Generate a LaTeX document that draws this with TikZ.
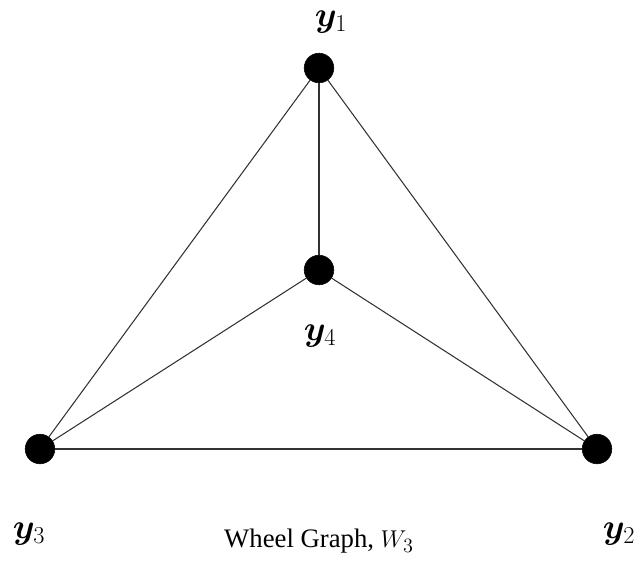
\documentclass[tikz,border=0pt]{standalone}
\usepackage{amsmath}
\usepackage{amssymb}
\usepackage{bm}
\usepackage{fontspec}
\setmainfont{Liberation Serif}
\usepackage{tikz}
\usetikzlibrary{positioning, calc}
\definecolor{mydark}{RGB}{50,50,50}
\tikzset{
  vertex/.style={circle, draw=black, fill=black,
    minimum size=0.74cm, inner sep=0pt},
  vlabel/.style={font=\fontsize{26}{30}\selectfont, inner sep=0pt},
  edge/.style={line width=0.75pt, color=mydark},
  caption/.style={font=\fontsize{19}{22}\selectfont, inner sep=0pt}
}
\begin{document}
\begin{tikzpicture}[x=0.025cm, y=-0.025cm]
  \useasboundingbox (0,0) rectangle (636,561);
  % Vertices
  \node[vertex] (y1) at (319,68) {};
  \node[vertex] (y4) at (319,270) {};
  \node[vertex] (y3) at (40,449) {};
  \node[vertex] (y2) at (597,449) {};
  % Edges: rim
  \draw[edge] (y1) -- (y2);
  \draw[edge] (y2) -- (y3);
  \draw[edge] (y3) -- (y1);
  % Edges: spokes
  \draw[edge] (y4) -- (y1);
  \draw[edge] (y4) -- (y2);
  \draw[edge] (y4) -- (y3);
  % Labels
  \node[vlabel] (l1) at (331,22) {$\bm{y}_1$};
  \node[vlabel] (l4) at (320,336) {$\bm{y}_4$};
  \node[vlabel] (l3) at (29,534) {$\bm{y}_3$};
  \node[vlabel] (l2) at (619,534) {$\bm{y}_2$};
  \node[caption] (cap) at (319,541) {Wheel Graph, $W_3$};
\end{tikzpicture}
\end{document}
